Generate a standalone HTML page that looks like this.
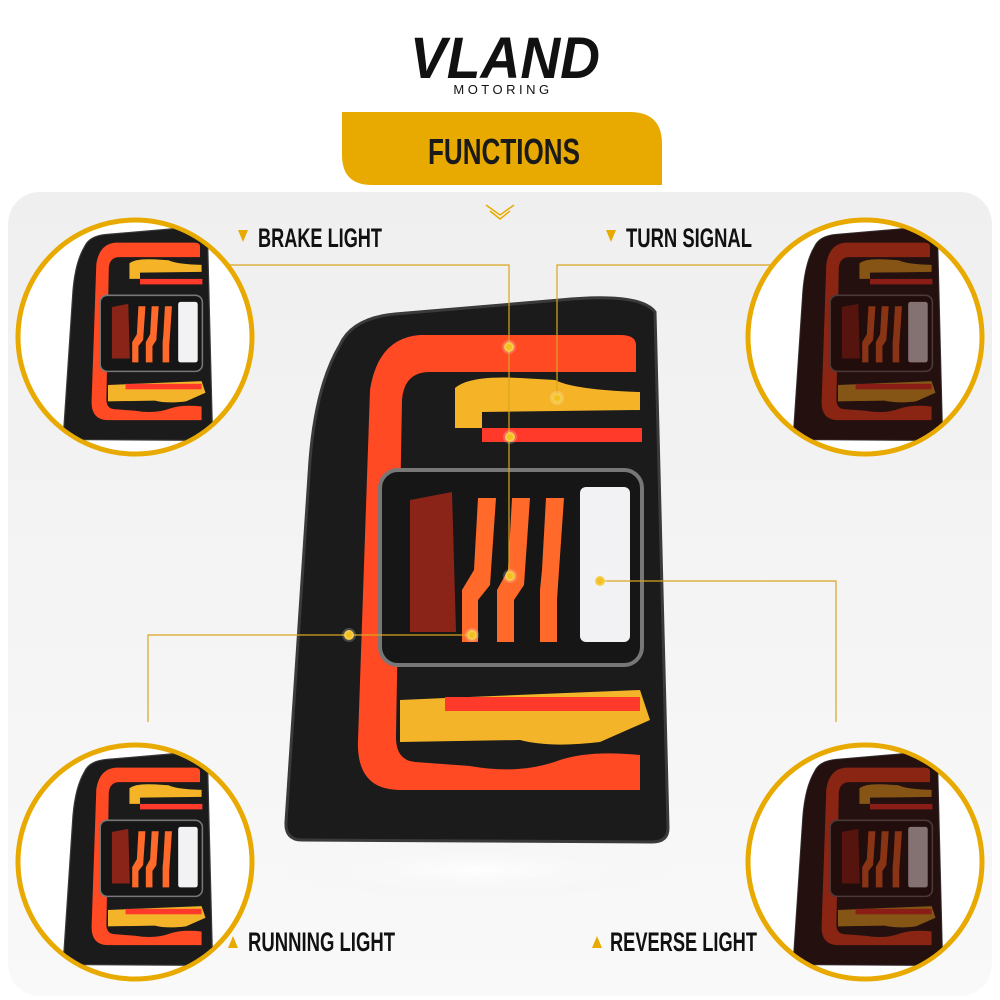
<!DOCTYPE html>
<html><head><meta charset="utf-8"><style>
html,body{margin:0;padding:0;background:#fff;}
svg{display:block;}
text{font-family:"Liberation Sans Narrow","Liberation Sans",sans-serif;}
</style></head><body>
<svg width="1000" height="1000" viewBox="0 0 1000 1000" xmlns="http://www.w3.org/2000/svg">
<defs>
<linearGradient id="bg" x1="0" y1="0" x2="0" y2="1">
<stop offset="0" stop-color="#efefef"/><stop offset="1" stop-color="#f9f9f9"/></linearGradient>
<radialGradient id="floor" cx="0.5" cy="0.5" r="0.5"><stop offset="0" stop-color="#fff"/><stop offset="1" stop-color="#f2f2f2" stop-opacity="0"/></radialGradient>
<path id="body" d="M340 345 Q352 318 395 314 L560 300 Q640 292 655 312 L668 828 Q668 842 652 842 L302 840 Q285 840 286 822 L310 460 Q316 385 340 345 Z"/>
<g id="lamp">
<use href="#body" fill="#1b1b1b" stroke="#3a3a3a" stroke-width="3"/>
<path d="M636 372 L636 345 Q636 335 620 335 L420 335 Q378 338 370 390 L358 740 Q356 790 400 790 L640 790 L640 755 Q590 750 560 760 Q520 775 470 766 L415 762 Q395 760 396 735 L402 400 Q404 372 430 372 Z" fill="#ff4a24"/>
<path d="M455 388 Q470 375 520 378 L555 380 Q575 390 640 392 L640 410 L482 412 L482 428 L455 428 Z" fill="#f5b428"/>
<rect x="482" y="428" width="160" height="14" fill="#ff3a2a"/>
<rect x="380" y="470" width="262" height="195" rx="18" fill="#161616" stroke="#777" stroke-width="4"/>
<path d="M410 500 L452 492 L456 632 L410 632 Z" fill="#8a2418"/>
<path d="M478 498 L496 498 L490 585 L478 600 L478 642 L462 642 L462 590 L474 570 Z" fill="#ff6a2a"/>
<path d="M512 498 L530 498 L524 585 L514 600 L514 642 L497 642 L497 590 L508 570 Z" fill="#ff6a2a"/>
<path d="M546 498 L564 498 L558 585 L557 600 L557 642 L540 642 L540 590 L542 570 Z" fill="#ff6a2a"/>
<rect x="580" y="487" width="50" height="155" rx="6" fill="#f2f2f4"/>
<path d="M400 700 L445 698 L640 690 L650 720 L600 742 Q550 748 520 740 L400 742 Z" fill="#f3b429"/>
<rect x="445" y="697" width="195" height="14" fill="#ff3a2a"/>
</g>
<g id="lampdark"><use href="#lamp"/><use href="#body" fill="#2a0806" opacity="0.55"/></g>
<clipPath id="c1"><circle cx="0" cy="0" r="115"/></clipPath>
</defs>
<text x="505" y="78" font-size="58" font-weight="bold" font-style="italic" text-anchor="middle" textLength="190" lengthAdjust="spacingAndGlyphs" fill="#111" style="font-family:'Liberation Sans',sans-serif">VLAND</text>
<text x="503" y="94" font-size="13" text-anchor="middle" letter-spacing="3.5" fill="#111" style="font-family:'Liberation Sans',sans-serif">MOTORING</text>
<rect x="8" y="192" width="984" height="804" rx="32" fill="url(#bg)"/>
<path d="M342 112 L630 112 Q662 112 662 144 L662 185 L372 185 Q342 185 342 155 Z" fill="#e8aa00"/>
<text x="504" y="164" font-size="36" font-weight="bold" text-anchor="middle" textLength="152" lengthAdjust="spacingAndGlyphs" fill="#1a1a1a">FUNCTIONS</text>
<path d="M486 205 L500 215 L514 205 M490 211 L500 219 L510 211" fill="none" stroke="#e8aa00" stroke-width="1.5"/>
<ellipse cx="478" cy="870" rx="200" ry="30" fill="url(#floor)"/>
<use href="#lamp"/>
<g stroke="#d9a520" stroke-width="1.2" fill="none">
<path d="M230 265 L509 265 L509 576"/>
<path d="M770 265 L557 265 L557 398"/>
<path d="M148 722 L148 635 L472 635"/>
<path d="M836 722 L836 581 L600 581"/>
</g>
<g fill="#f3c020" stroke="#fff3" stroke-width="4">
<circle cx="509" cy="347" r="5"/><circle cx="557" cy="398" r="5"/><circle cx="510" cy="437" r="5"/>
<circle cx="510" cy="576" r="5"/><circle cx="472" cy="635" r="5"/><circle cx="349" cy="635" r="5"/><circle cx="600" cy="581" r="5"/>
</g>
<g transform="translate(135,337)"><circle r="117" fill="#fff" stroke="#e8aa00" stroke-width="5"/><g clip-path="url(#c1)"><g transform="translate(-183,-225) scale(0.39)"><use href="#lamp"/></g></g></g>
<g transform="translate(865,337)"><circle r="117" fill="#fff" stroke="#e8aa00" stroke-width="5"/><g clip-path="url(#c1)"><g transform="translate(-183,-225) scale(0.39)"><use href="#lampdark"/></g></g></g>
<g transform="translate(135,862)"><circle r="117" fill="#fff" stroke="#e8aa00" stroke-width="5"/><g clip-path="url(#c1)"><g transform="translate(-183,-225) scale(0.39)"><use href="#lamp"/></g></g></g>
<g transform="translate(865,862)"><circle r="117" fill="#fff" stroke="#e8aa00" stroke-width="5"/><g clip-path="url(#c1)"><g transform="translate(-183,-225) scale(0.39)"><use href="#lampdark"/></g></g></g>
<g fill="#e8aa00">
<path d="M238 230 L248 230 L243 242 Z"/><path d="M606 230 L616 230 L611 242 Z"/>
<path d="M228 948 L238 948 L233 936 Z"/><path d="M592 948 L602 948 L597 936 Z"/>
</g>
<g font-size="27" font-weight="bold" fill="#111">
<text x="258" y="247" textLength="124" lengthAdjust="spacingAndGlyphs">BRAKE LIGHT</text>
<text x="626" y="247" textLength="126" lengthAdjust="spacingAndGlyphs">TURN SIGNAL</text>
<text x="248" y="951" textLength="147" lengthAdjust="spacingAndGlyphs">RUNNING LIGHT</text>
<text x="610" y="951" textLength="147" lengthAdjust="spacingAndGlyphs">REVERSE LIGHT</text>
</g>
</svg>
</body></html>
